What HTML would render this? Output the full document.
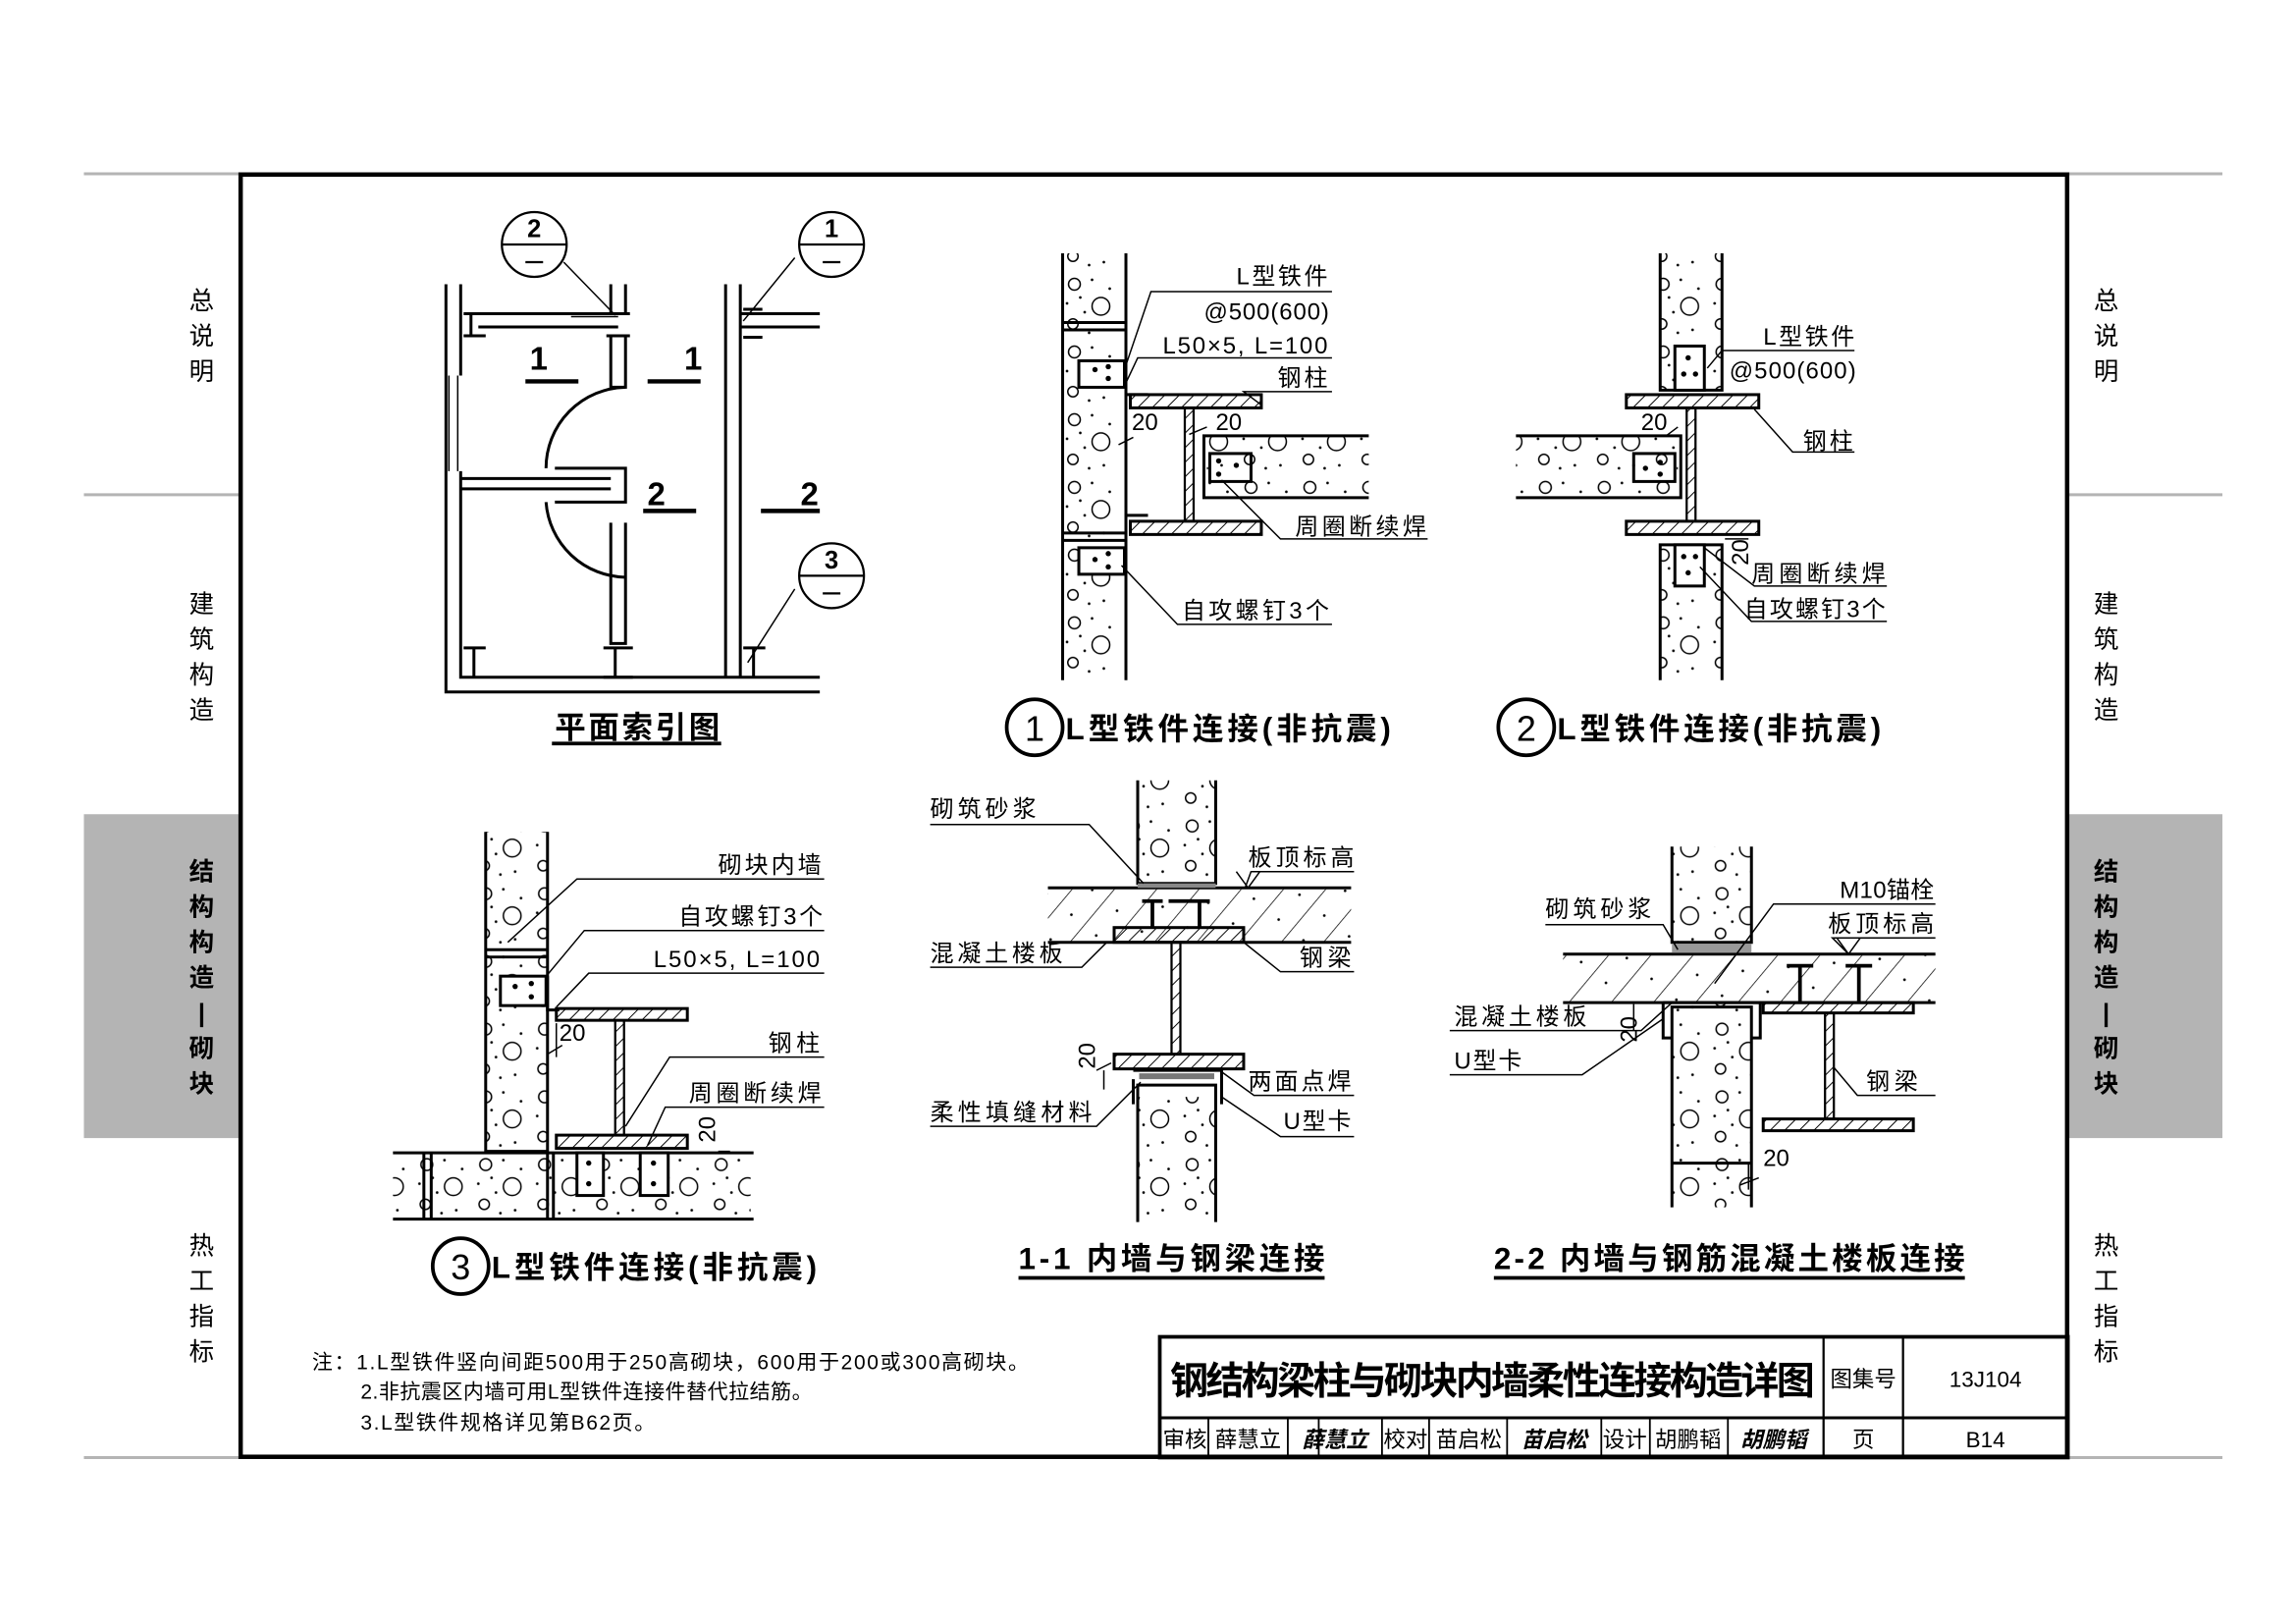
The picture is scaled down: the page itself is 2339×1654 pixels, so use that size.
<!DOCTYPE html>
<html><head><meta charset="utf-8"><style>
html,body{margin:0;padding:0;background:#fff;}
svg{display:block;}
text{font-family:"Liberation Sans","Noto Sans CJK SC",sans-serif;fill:#000;}
.l{font-size:16px;}
.s{font-family:"Liberation Serif","Noto Serif CJK SC","Noto Sans CJK SC",serif;}
.cap{font-size:21px;font-weight:bold;}
.side{font-size:17px;fill:#aaa;}
</style></head><body>
<svg width="2339" height="1654" viewBox="0 0 1560 1103" xmlns="http://www.w3.org/2000/svg">
<defs>
<pattern id="con" width="40" height="46" patternUnits="userSpaceOnUse">
<circle cx="10" cy="9" r="4" fill="none" stroke="#000" stroke-width="1"/>
<circle cx="28" cy="24" r="6" fill="none" stroke="#000" stroke-width="1"/>
<circle cx="9" cy="36" r="3.5" fill="none" stroke="#000" stroke-width="1"/>
<circle cx="22" cy="6" r="0.9" fill="#000"/><circle cx="34" cy="12" r="0.9" fill="#000"/>
<circle cx="5" cy="22" r="0.9" fill="#000"/><circle cx="17" cy="28" r="0.9" fill="#000"/>
<circle cx="30" cy="40" r="0.9" fill="#000"/><circle cx="20" cy="42" r="0.9" fill="#000"/>
<circle cx="14" cy="18" r="0.9" fill="#000"/>
</pattern>
<pattern id="hat" width="7" height="7" patternUnits="userSpaceOnUse" patternTransform="rotate(45)">
<line x1="0" y1="0" x2="0" y2="7" stroke="#000" stroke-width="1.3"/>
</pattern>
<pattern id="slab" width="22" height="22" patternUnits="userSpaceOnUse" patternTransform="rotate(40)">
<line x1="0" y1="0" x2="0" y2="22" stroke="#000" stroke-width="1"/>
<circle cx="11" cy="8" r="0.9" fill="#000"/>
</pattern>
</defs>
<rect width="1560" height="1103" fill="#fff"/>
<!-- sidebars -->
<g stroke="#b4b4b4" stroke-width="2">
<line x1="57" y1="118" x2="163" y2="118"/><line x1="57" y1="336" x2="163" y2="336"/><line x1="57" y1="990" x2="163" y2="990"/>
<line x1="1405" y1="118" x2="1510" y2="118"/><line x1="1405" y1="336" x2="1510" y2="336"/><line x1="1405" y1="990" x2="1510" y2="990"/>
</g>
<rect x="57" y="553" width="106" height="220" fill="#b4b4b4"/>
<rect x="1405" y="553" width="105" height="220" fill="#b4b4b4"/>
<g class="side" text-anchor="middle">
<text x="137" y="210">总</text><text x="137" y="234">说</text><text x="137" y="258">明</text>
<text x="137" y="416">建</text><text x="137" y="440">筑</text><text x="137" y="464">构</text><text x="137" y="488">造</text>
<text x="137" y="852">热</text><text x="137" y="876">工</text><text x="137" y="900">指</text><text x="137" y="924">标</text>
<text x="1431" y="210">总</text><text x="1431" y="234">说</text><text x="1431" y="258">明</text>
<text x="1431" y="416">建</text><text x="1431" y="440">筑</text><text x="1431" y="464">构</text><text x="1431" y="488">造</text>
<text x="1431" y="852">热</text><text x="1431" y="876">工</text><text x="1431" y="900">指</text><text x="1431" y="924">标</text>
</g>
<g text-anchor="middle" style="font-size:17px;font-weight:bold">
<text x="137" y="598">结</text><text x="137" y="622">构</text><text x="137" y="646">构</text><text x="137" y="670">造</text><text x="137" y="694">|</text><text x="137" y="718">砌</text><text x="137" y="742">块</text>
<text x="1431" y="598">结</text><text x="1431" y="622">构</text><text x="1431" y="646">构</text><text x="1431" y="670">造</text><text x="1431" y="694">|</text><text x="1431" y="718">砌</text><text x="1431" y="742">块</text>
</g>
<!-- frame -->
<rect x="163.5" y="118.5" width="1241" height="871" fill="none" stroke="#000" stroke-width="3"/>

<!-- PLAN -->
<g fill="none" stroke="#000" stroke-width="2">
<path d="M303 193V470H557M313 193V255M313 320V460H557"/>
<path d="M305 255V320M311 255V320" stroke-width="1"/>
<path d="M415 193V213M425 193V213M415 228V263H425V228M415 355V437H425V355"/>
<path d="M493 193V460M503 193V460"/>
<path d="M325 213H420M325 222H420M315 213H330M315 228H330M320 213V228M412 213H428M412 228H428" />
<path d="M503 213H557M503 222H557M505 210H518M505 229H518"/>
<path d="M313 325H415M313 332H415M412 318H425V341H412M377 318H415M377 341H415"/>
<path d="M425 263A55 55 0 0 0 371 318M371 341A55 55 0 0 0 425 392"/>
<path d="M315 440H330M322 440V460M410 440H430M418 440V460M410 460H430M505 440H520M512 440V460"/>
<path d="M388 215L420 215M383 178L418 214M540 175L505 218M540 400L508 450" stroke-width="1"/>
</g>
<g fill="none" stroke="#000" stroke-width="1.5">
<circle cx="363" cy="166" r="22"/><line x1="341" y1="166" x2="385" y2="166"/>
<circle cx="565" cy="166" r="22"/><line x1="543" y1="166" x2="587" y2="166"/>
<circle cx="565" cy="391" r="22"/><line x1="543" y1="391" x2="587" y2="391"/>
<line x1="357" y1="178" x2="369" y2="178"/><line x1="559" y1="178" x2="571" y2="178"/><line x1="559" y1="403" x2="571" y2="403"/>
</g>
<g style="font-size:17px;font-weight:bold" text-anchor="middle">
<text x="363" y="161">2</text><text x="565" y="161">1</text><text x="565" y="386">3</text>
</g>
<g style="font-size:22px;font-weight:bold" text-anchor="middle">
<text x="366" y="251">1</text><text x="471" y="251">1</text><text x="446" y="343">2</text><text x="550" y="343">2</text>
</g>
<g stroke="#000" stroke-width="3">
<line x1="357" y1="259" x2="393" y2="259"/><line x1="440" y1="259" x2="476" y2="259"/>
<line x1="437" y1="347" x2="473" y2="347"/><line x1="517" y1="347" x2="557" y2="347"/>
<line x1="375" y1="505" x2="490" y2="505" stroke-width="2.5"/>
</g>
<text x="433" y="501" class="cap" text-anchor="middle" textLength="112">平面索引图</text>

<!-- DETAIL 1 -->
<rect x="722" y="172" width="43" height="290" fill="url(#con)" stroke="none"/>
<g fill="none" stroke="#000" stroke-width="2">
<path d="M722 172V462M765 172V462M722 219H765M722 224H765M722 362H765M722 367H765"/>
<rect x="733" y="245" width="31" height="18" fill="#fff"/><rect x="733" y="372" width="31" height="18" fill="#fff"/>
<path d="M765 245V268H780M765 367V350H780"/>
</g>
<rect x="768" y="268" width="89" height="9" fill="url(#hat)" stroke="#000" stroke-width="2"/>
<rect x="768" y="354" width="89" height="9" fill="url(#hat)" stroke="#000" stroke-width="2"/>
<rect x="805" y="277" width="6" height="77" fill="url(#hat)" stroke="#000" stroke-width="1.5"/>
<rect x="820" y="296" width="110" height="42" fill="url(#con)"/>
<g fill="none" stroke="#000" stroke-width="2">
<path d="M930 296H818V338H930"/><rect x="822" y="308" width="28" height="19"/>
</g>
<g fill="#000"><circle cx="744" cy="251" r="1.8"/><circle cx="753" cy="249" r="1.8"/><circle cx="753" cy="257" r="1.8"/>
<circle cx="744" cy="380" r="1.8"/><circle cx="753" cy="376" r="1.8"/><circle cx="753" cy="385" r="1.8"/>
<circle cx="828" cy="313" r="1.8"/><circle cx="840" cy="316" r="1.8"/><circle cx="828" cy="322" r="1.8"/></g>
<g fill="none" stroke="#000" stroke-width="1">
<path d="M905 198H782L765 248M905 243H773L765 260M905 266H845L857 275M970 366H870L830 326M905 424H800L762 384M765 280V305M760 302L770 297M808 295L820 290"/>
</g>
<g class="l s">
<text x="840" y="193" textLength="62">L型铁件</text>
<text x="818" y="217" textLength="85">@500(600)</text>
<text x="790" y="240" textLength="112">L50×5, L=100</text>
<text x="868" y="262" textLength="34">钢柱</text>
<text x="769" y="292">20</text><text x="826" y="292">20</text>
<text x="880" y="363" textLength="89">周圈断续焊</text>
<text x="803" y="420" textLength="100">自攻螺钉3个</text>
</g>
<circle cx="703" cy="494" r="19" fill="none" stroke="#000" stroke-width="2.5"/>
<text x="703" y="503" text-anchor="middle" style="font-size:24px">1</text>
<text x="724" y="502" class="cap" textLength="221">L型铁件连接(非抗震)</text>

<!-- DETAIL 2 -->
<rect x="1128" y="172" width="42" height="93" fill="url(#con)"/>
<rect x="1128" y="370" width="42" height="92" fill="url(#con)"/>
<g fill="none" stroke="#000" stroke-width="2">
<path d="M1128 172V265H1170V172M1128 462V370H1170V462"/>
<rect x="1138" y="235" width="20" height="30" fill="#fff"/><rect x="1138" y="370" width="20" height="28" fill="#fff"/>
</g>
<rect x="1105" y="268" width="90" height="9" fill="url(#hat)" stroke="#000" stroke-width="2"/>
<rect x="1105" y="354" width="90" height="9" fill="url(#hat)" stroke="#000" stroke-width="2"/>
<rect x="1146" y="277" width="6" height="77" fill="url(#hat)" stroke="#000" stroke-width="1.5"/>
<rect x="1030" y="296" width="110" height="42" fill="url(#con)"/>
<g fill="none" stroke="#000" stroke-width="2">
<path d="M1030 296H1142V338H1030"/><rect x="1110" y="308" width="28" height="19"/>
</g>
<g fill="#000"><circle cx="1147" cy="243" r="1.8"/><circle cx="1144" cy="254" r="1.8"/><circle cx="1152" cy="254" r="1.8"/>
<circle cx="1144" cy="378" r="1.8"/><circle cx="1152" cy="378" r="1.8"/><circle cx="1147" cy="389" r="1.8"/>
<circle cx="1128" cy="314" r="1.8"/><circle cx="1128" cy="322" r="1.8"/><circle cx="1118" cy="318" r="1.8"/></g>
<g fill="none" stroke="#000" stroke-width="1">
<path d="M1260 238H1170L1160 250M1260 307H1218L1192 278M1282 398H1192L1158 372M1282 422H1190L1155 385M1140 290L1132 296M1172 366L1188 366"/>
</g>
<g class="l s">
<text x="1198" y="234" textLength="62">L型铁件</text>
<text x="1175" y="257" textLength="86">@500(600)</text>
<text x="1225" y="305" textLength="34">钢柱</text>
<text x="1115" y="292">20</text>
<text x="1190" y="395" textLength="91">周圈断续焊</text>
<text x="1185" y="419" textLength="96">自攻螺钉3个</text>
<text x="1188" y="384" transform="rotate(-90 1188 384)">20</text>
</g>
<circle cx="1037" cy="494" r="19" fill="none" stroke="#000" stroke-width="2.5"/>
<text x="1037" y="503" text-anchor="middle" style="font-size:24px">2</text>
<text x="1058" y="502" class="cap" textLength="220">L型铁件连接(非抗震)</text>

<!-- DETAIL 3 -->
<rect x="330" y="565" width="42" height="217" fill="url(#con)"/>
<rect x="267" y="783" width="243" height="45" fill="url(#con)"/>
<g fill="none" stroke="#000" stroke-width="2">
<path d="M330 565V782H372V565M330 645H372M330 650H372"/>
<rect x="340" y="663" width="31" height="20" fill="#fff"/>
<path d="M372 663V686H380"/>
<path d="M267 783H512M267 828H512M288 783V828M293 783V828M372 783V828M376 783V828"/>
<rect x="392" y="783" width="18" height="29" fill="#fff"/><rect x="435" y="783" width="19" height="29" fill="#fff"/>
</g>
<rect x="378" y="685" width="89" height="8" fill="url(#hat)" stroke="#000" stroke-width="2"/>
<rect x="378" y="771" width="89" height="9" fill="url(#hat)" stroke="#000" stroke-width="2"/>
<rect x="418" y="693" width="6" height="78" fill="url(#hat)" stroke="#000" stroke-width="1.5"/>
<g fill="#000"><circle cx="350" cy="670" r="1.8"/><circle cx="361" cy="668" r="1.8"/><circle cx="361" cy="677" r="1.8"/>
<circle cx="400" cy="790" r="1.8"/><circle cx="400" cy="804" r="1.8"/><circle cx="444" cy="790" r="1.8"/><circle cx="444" cy="804" r="1.8"/></g>
<g fill="none" stroke="#000" stroke-width="1">
<path d="M560 597H392L345 640M560 632H397L372 662M560 661H400L378 684M560 718H455L425 765M560 752H452L440 778M378 695V718M372 716L382 710M488 782L496 782"/>
</g>
<g class="l s">
<text x="488" y="593" textLength="70">砌块内墙</text>
<text x="461" y="628" textLength="98">自攻螺钉3个</text>
<text x="444" y="657" textLength="113">L50×5, L=100</text>
<text x="522" y="714" textLength="35">钢柱</text>
<text x="468" y="748" textLength="90">周圈断续焊</text>
<text x="380" y="707">20</text>
<text x="486" y="776" transform="rotate(-90 486 776)">20</text>
</g>
<circle cx="313" cy="860" r="19" fill="none" stroke="#000" stroke-width="2.5"/>
<text x="313" y="869" text-anchor="middle" style="font-size:24px">3</text>
<text x="334" y="868" class="cap" textLength="221">L型铁件连接(非抗震)</text>

<!-- 1-1 -->
<rect x="773" y="530" width="53" height="70" fill="url(#con)"/>
<rect x="773" y="745" width="53" height="85" fill="url(#con)"/>
<rect x="712" y="604" width="206" height="36" fill="url(#slab)"/>
<g fill="none" stroke="#000" stroke-width="2">
<path d="M773 530V600H826V530M712 603H918M712 640H918M773 830V737H826V830"/>
<path d="M770 733V750M770 727H830V750"/>
<path d="M808 612H822M815 612V630M794 612H808M776 612H790M783 612V630" stroke-width="2.5"/>
</g>
<rect x="773" y="600" width="53" height="3" fill="#888"/>
<rect x="757" y="630" width="88" height="10" fill="url(#hat)" stroke="#000" stroke-width="2"/>
<rect x="757" y="716" width="88" height="10" fill="url(#hat)" stroke="#000" stroke-width="2"/>
<rect x="796" y="640" width="6" height="76" fill="url(#hat)" stroke="#000" stroke-width="1.5"/>
<rect x="774" y="729" width="51" height="4" fill="#777"/>
<g fill="none" stroke="#000" stroke-width="1">
<path d="M632 560H740L777 600M920 592H850L846 603M840 592L848 603L856 592M632 657H735L752 640M920 660H870L845 640M920 744H852L830 728M632 765H745L775 735M920 772H870L830 745M750 727V740M745 727L755 722"/>
</g>
<g class="l s">
<text x="632" y="555" textLength="72">砌筑砂浆</text>
<text x="848" y="588" textLength="72">板顶标高</text>
<text x="632" y="653" textLength="90">混凝土楼板</text>
<text x="883" y="656" textLength="35">钢梁</text>
<text x="848" y="740" textLength="70">两面点焊</text>
<text x="632" y="761" textLength="110">柔性填缝材料</text>
<text x="872" y="767" textLength="46">U型卡</text>
<text x="744" y="726" transform="rotate(-90 744 726)">20</text>
</g>
<text x="692" y="862" class="cap" textLength="208">1-1 内墙与钢梁连接</text>
<line x1="692" y1="868" x2="900" y2="868" stroke="#000" stroke-width="2.5"/>

<!-- 2-2 -->
<rect x="1136" y="575" width="54" height="65" fill="url(#con)"/>
<rect x="1136" y="681" width="54" height="139" fill="url(#con)"/>
<rect x="1062" y="649" width="253" height="31" fill="url(#slab)"/>
<g fill="none" stroke="#000" stroke-width="2">
<path d="M1136 575V640H1190V575M1062 648H1315M1062 681H1315M1136 820V684H1190V820M1136 790H1190"/>
<path d="M1130 681V705H1136M1130 681H1196V705H1190"/>
<path d="M1214 656H1232M1223 656V680M1254 656H1272M1263 656V680" stroke-width="2.5"/>
</g>
<rect x="1136" y="641" width="54" height="6" fill="#999"/>
<rect x="1198" y="681" width="102" height="7" fill="url(#hat)" stroke="#000" stroke-width="2"/>
<rect x="1198" y="760" width="102" height="8" fill="url(#hat)" stroke="#000" stroke-width="2"/>
<rect x="1240" y="688" width="6" height="72" fill="url(#hat)" stroke="#000" stroke-width="1.5"/>
<g fill="none" stroke="#000" stroke-width="1">
<path d="M1050 628H1130L1140 645M1315 614H1205L1165 668M1315 637H1245L1256 648M1248 637L1256 648L1264 637M985 700H1115L1136 681M985 730H1075L1130 692M1315 744H1262L1246 725M1110 682V700M1188 790V808M1182 805L1195 800"/>
</g>
<g class="l s">
<text x="1050" y="623" textLength="72">砌筑砂浆</text>
<text x="1250" y="610" textLength="64">M10锚栓</text>
<text x="1242" y="633" textLength="72">板顶标高</text>
<text x="988" y="696" textLength="90">混凝土楼板</text>
<text x="988" y="726" textLength="46">U型卡</text>
<text x="1268" y="740" textLength="35">钢梁</text>
<text x="1198" y="792">20</text>
<text x="1112" y="708" transform="rotate(-90 1112 708)">20</text>
</g>
<text x="1015" y="862" class="cap" textLength="320">2-2 内墙与钢筋混凝土楼板连接</text>
<line x1="1015" y1="868" x2="1335" y2="868" stroke="#000" stroke-width="2.5"/>

<!-- notes -->
<g class="s" style="font-size:14px">
<text x="212" y="930" textLength="487">注：1.L型铁件竖向间距500用于250高砌块，600用于200或300高砌块。</text>
<text x="245" y="950" textLength="307">2.非抗震区内墙可用L型铁件连接件替代拉结筋。</text>
<text x="245" y="971" textLength="200">3.L型铁件规格详见第B62页。</text>
</g>

<!-- title block -->
<g fill="none" stroke="#000">
<rect x="788" y="908" width="617" height="82" stroke-width="2.5"/>
<line x1="788" y1="963" x2="1405" y2="963" stroke-width="2"/>
<line x1="1239" y1="908" x2="1239" y2="990" stroke-width="1.5"/>
<line x1="1293" y1="908" x2="1293" y2="990" stroke-width="1.5"/>
<path d="M821 963V990M875 963V990M896 963V990M939 963V990M971 963V990M1024 963V990M1088 963V990M1121 963V990M1174 963V990" stroke-width="1.2"/>
</g>
<text x="795" y="947" style="font-size:26px;font-weight:bold" textLength="438">钢结构梁柱与砌块内墙柔性连接构造详图</text>
<g class="s" style="font-size:15px" text-anchor="middle">
<text x="1266" y="942">图集号</text><text x="1349" y="942">13J104</text>
<text x="805" y="983">审核</text><text x="848" y="983">薛慧立</text><text x="955" y="983">校对</text><text x="998" y="983">苗启松</text>
<text x="1104" y="983">设计</text><text x="1147" y="983">胡鹏韬</text><text x="1266" y="983">页</text><text x="1349" y="983">B14</text>
</g>
<g style="font-size:15px;font-weight:bold;font-style:italic" text-anchor="middle">
<text x="907" y="983">薛慧立</text><text x="1056" y="983">苗启松</text><text x="1205" y="983">胡鹏韬</text>
</g>
</svg>
</body></html>
